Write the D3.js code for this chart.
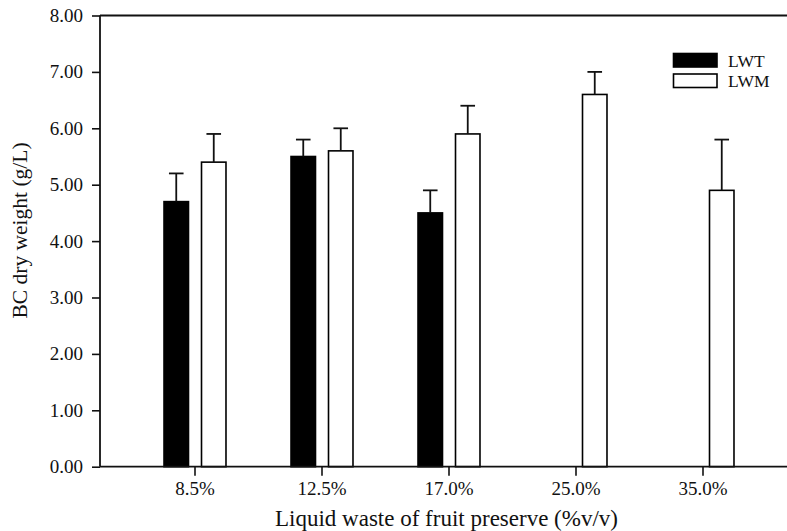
<!DOCTYPE html>
<html>
<head>
<meta charset="utf-8">
<script src="https://cdn.jsdelivr.net/npm/d3@7"></script>
<style>
  html, body { margin: 0; padding: 0; background: #ffffff; }
  svg text { font-family: "Liberation Serif", "Times New Roman", Times, serif; fill: #111111; }
</style>
</head>
<body>
<svg id="chart" width="787" height="531"></svg>
<script>
const categories = ["8.5%", "12.5%", "17.0%", "25.0%", "35.0%"];
const seriesNames = ["LWT", "LWM"];
const lwtValues = [4.7, 5.5, 4.5, null, null];
const lwtErrors = [0.5, 0.3, 0.4, null, null];
const lwmValues = [5.4, 5.6, 5.9, 6.6, 4.9];
const lwmErrors = [0.5, 0.4, 0.5, 0.4, 0.9];
const yTicks = [0, 1, 2, 3, 4, 5, 6, 7, 8];

const serifFont = '"Liberation Serif", "Times New Roman", Times, serif';
const seriesFill = { LWT: "#000000", LWM: "#ffffff" };

const width = 787;
const plotLeft = 100;
const plotTop = 15.5;
const plotBottom = 466.7;

const svg = d3.select("#chart");

const y = d3.scaleLinear().domain([0, 8]).range([plotBottom, plotTop]);

const x0 = d3.scaleBand()
  .domain(categories)
  .range([131.5, 766.5])
  .paddingInner(0.512)
  .paddingOuter(0.256);

const x1 = d3.scaleBand()
  .domain(seriesNames)
  .range([0, x0.bandwidth()])
  .paddingInner(0.347);

const rows = [];
categories.forEach(function(cat, i) {
  rows.push({ cat: cat, series: "LWT", value: lwtValues[i], err: lwtErrors[i] });
  rows.push({ cat: cat, series: "LWM", value: lwmValues[i], err: lwmErrors[i] });
});
const bars = rows.filter(function(d) { return d.value != null; });

// bars
svg.append("g")
  .selectAll("rect")
  .data(bars)
  .join("rect")
  .attr("x", function(d) { return x0(d.cat) + x1(d.series); })
  .attr("y", function(d) { return y(d.value); })
  .attr("width", x1.bandwidth())
  .attr("height", function(d) { return y(0) - y(d.value); })
  .attr("fill", function(d) { return seriesFill[d.series]; })
  .attr("stroke", "#000")
  .attr("stroke-width", 1.6);

// error bars (upper only)
const errG = svg.append("g").attr("stroke", "#111").attr("stroke-width", 1.8);
bars.forEach(function(d) {
  const cx = x0(d.cat) + x1(d.series) + x1.bandwidth() / 2;
  errG.append("line")
    .attr("x1", cx).attr("x2", cx)
    .attr("y1", y(d.value)).attr("y2", y(d.value + d.err));
  errG.append("line")
    .attr("x1", cx - 7.3).attr("x2", cx + 7.3)
    .attr("y1", y(d.value + d.err)).attr("y2", y(d.value + d.err));
});

// y axis
const yAxis = svg.append("g")
  .attr("transform", "translate(" + plotLeft + ",0)")
  .call(d3.axisLeft(y).tickValues(yTicks).tickFormat(d3.format(".2f")).tickSize(8).tickPadding(9).tickSizeOuter(0))
  .attr("font-family", serifFont)
  .attr("font-size", 19);
yAxis.select(".domain").remove();
yAxis.selectAll(".tick line").attr("stroke", "#111").attr("stroke-width", 1.6);

// x axis
const xAxis = svg.append("g")
  .attr("transform", "translate(0," + plotBottom + ")")
  .call(d3.axisBottom(x0).tickSize(9).tickPadding(6).tickSizeOuter(0))
  .attr("font-family", serifFont)
  .attr("font-size", 19);
xAxis.select(".domain").remove();
xAxis.selectAll(".tick line").attr("stroke", "#111").attr("stroke-width", 1.6);

// frame lines
const frame = svg.append("g").attr("stroke", "#111").attr("stroke-width", 1.8);
frame.append("line").attr("x1", plotLeft).attr("x2", width).attr("y1", plotBottom).attr("y2", plotBottom);
frame.append("line").attr("x1", plotLeft).attr("x2", width).attr("y1", plotTop).attr("y2", plotTop);
frame.append("line").attr("x1", plotLeft).attr("x2", plotLeft).attr("y1", plotTop).attr("y2", plotBottom);

// axis titles
svg.append("text")
  .attr("x", 446.5)
  .attr("y", 525.5)
  .attr("text-anchor", "middle")
  .attr("font-size", 23)
  .text("Liquid waste of fruit preserve (%v/v)");

svg.append("text")
  .attr("transform", "translate(27,230.5) rotate(-90)")
  .attr("text-anchor", "middle")
  .attr("font-size", 21.5)
  .text("BC dry weight (g/L)");

// legend
const legend = svg.append("g").attr("transform", "translate(673.5,53.5)");
const legendItems = legend.selectAll("g")
  .data(seriesNames)
  .join("g")
  .attr("transform", function(d, i) { return "translate(0," + (i * 20.5) + ")"; });
legendItems.append("rect")
  .attr("width", 43.5)
  .attr("height", 13.5)
  .attr("fill", function(d) { return seriesFill[d]; })
  .attr("stroke", "#000")
  .attr("stroke-width", 1.6);
legendItems.append("text")
  .attr("x", 54.5)
  .attr("y", 13.2)
  .attr("font-size", 17.5)
  .text(function(d) { return d; });
</script>
</body>
</html>
